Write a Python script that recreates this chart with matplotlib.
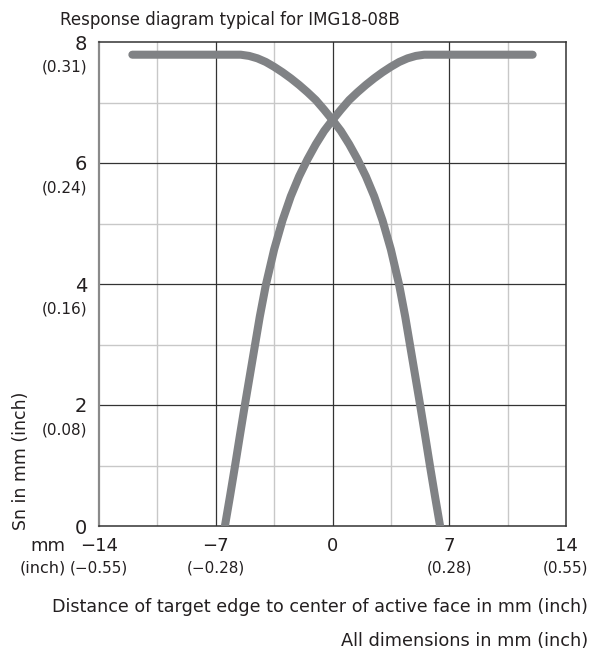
import matplotlib
matplotlib.use('Agg')
import matplotlib.pyplot as plt

plt.rcParams['font.family'] = ['DejaVu Sans']

# curve values (mm)
left_x = [-12.0, -6.5, -5.5, -5.0, -4.5, -4.0, -3.5, -3.0, -2.5, -2.0, -1.5, -1.0, -0.5,
          0.0, 0.5, 1.0, 1.5, 2.0, 2.5, 3.0, 3.5, 4.0, 4.36, 4.66, 4.96, 5.26, 5.55,
          5.84, 6.14, 6.45]
left_y = [7.79, 7.79, 7.79, 7.77, 7.73, 7.67, 7.59, 7.50, 7.40, 7.29, 7.17, 7.04, 6.88,
          6.71, 6.53, 6.31, 6.06, 5.78, 5.45, 5.05, 4.57, 3.98, 3.46, 2.97, 2.48, 1.99, 1.5,
          1.0, 0.5, 0.0]
right_x = [-6.45, -6.14, -5.84, -5.55, -5.26, -4.96, -4.66, -4.36, -4.0, -3.5, -3.0, -2.5,
           -2.0, -1.5, -1.0, -0.5, 0.0, 0.5, 1.0, 1.5, 2.0, 2.5, 3.0, 3.5, 4.0, 4.5,
           5.0, 5.5, 6.5, 12.0]
right_y = [0.0, 0.5, 1.0, 1.5, 1.99, 2.48, 2.97, 3.46, 3.98, 4.57, 5.05, 5.45,
           5.78, 6.06, 6.31, 6.53, 6.71, 6.88, 7.04, 7.17, 7.29, 7.40, 7.50, 7.59, 7.67, 7.73,
           7.77, 7.79, 7.79, 7.79]

x_ticks = [-14, -7, 0, 7, 14]
x_labels = ['\u221214', '\u22127', '0', '7', '14']
x_inch = ['(\u22120.55)', '(\u22120.28)', '', '(0.28)', '(0.55)']
y_ticks = [0, 2, 4, 6, 8]
y_labels = ['0', '2', '4', '6', '8']
y_inch = ['', '(0.08)', '(0.16)', '(0.24)', '(0.31)']
x_minor = [-10.5, -3.5, 3.5, 10.5]
y_minor = [1, 3, 5, 7]

curve_color = '#808285'
major_color = '#333333'
minor_color = '#c8c8c8'
text_color = '#231f20'

fig = plt.figure(figsize=(5.92, 6.54), dpi=100)
ax = fig.add_axes([99 / 592, 128 / 654, 467 / 592, 484 / 654])
ax.set_xlim(-14, 14)
ax.set_ylim(0, 8)

# grid
for v in x_minor:
    ax.axvline(v, color=minor_color, lw=1.0, zorder=1)
for v in y_minor:
    ax.axhline(v, color=minor_color, lw=1.0, zorder=1)
for v in x_ticks[1:-1]:
    ax.axvline(v, color=major_color, lw=0.9, zorder=1)
for v in y_ticks[1:-1]:
    ax.axhline(v, color=major_color, lw=0.9, zorder=1)

ax.plot(left_x, left_y, color=curve_color, lw=5.8, solid_capstyle='round',
        solid_joinstyle='round', zorder=3)
ax.plot(right_x, right_y, color=curve_color, lw=5.8, solid_capstyle='round',
        solid_joinstyle='round', zorder=3)

for side in ['top', 'right', 'bottom']:
    ax.spines[side].set_color(major_color)
    ax.spines[side].set_linewidth(1.1)
ax.spines['left'].set_color('#8a8a8a')
ax.spines['left'].set_linewidth(1.6)

ax.set_xticks(x_ticks)
ax.set_xticklabels(x_labels, fontsize=13, color=text_color)
ax.set_yticks(y_ticks)
ax.set_yticklabels(y_labels, fontsize=14, color=text_color)
ax.tick_params(axis='both', length=0)
ax.tick_params(axis='x', pad=8)
ax.tick_params(axis='y', pad=8.5)

# inch labels under the mm labels
for xv, lab in zip(x_ticks, x_inch):
    if lab:
        ax.annotate(lab, xy=(xv, 0), xycoords='data', xytext=(0, -30.5), textcoords='offset points',
                    ha='center', va='center', fontsize=11, color=text_color, annotation_clip=False)
for yv, lab in zip(y_ticks, y_inch):
    if lab:
        ax.annotate(lab, xy=(0, yv), xycoords=('axes fraction', 'data'), xytext=(-8.5, -18),
                    textcoords='offset points', ha='right', va='center', fontsize=11,
                    color=text_color, annotation_clip=False)

fig.text(30 / 592, 1 - 546 / 654, 'mm', ha='left', va='center', fontsize=13, color=text_color)
fig.text(20 / 592, 1 - 568 / 654, '(inch)', ha='left', va='center', fontsize=11.5, color=text_color)

fig.text(60 / 592, 1 - 20 / 654, 'Response diagram typical for IMG18-08B', ha='left', va='center',
         fontsize=12, color=text_color)
fig.text(21 / 592, 1 - 461 / 654, 'Sn in mm (inch)', rotation=90, ha='center', va='center',
         fontsize=12.5, color=text_color)
fig.text(588 / 592, 1 - 607 / 654, 'Distance of target edge to center of active face in mm (inch)',
         ha='right', va='center', fontsize=12.6, color=text_color)
fig.text(588 / 592, 1 - 641 / 654, 'All dimensions in mm (inch)', ha='right', va='center',
         fontsize=12.8, color=text_color)

fig.savefig('out.png', dpi=100)
